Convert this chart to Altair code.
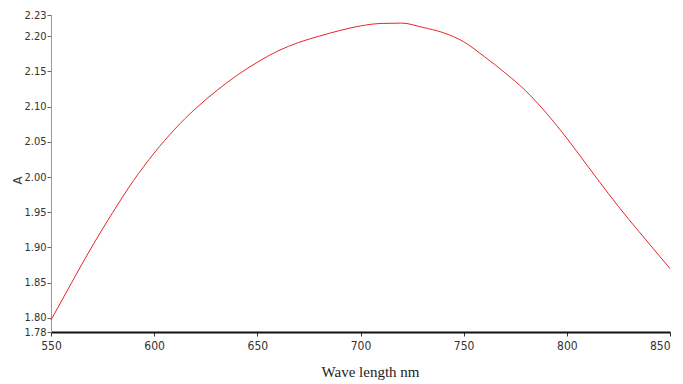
import altair as alt
import pandas as pd

wavelength = [550, 560, 570, 580, 590, 600, 610, 620, 630, 640, 650, 660, 670, 680, 690,
              700, 710, 720, 730, 740, 750, 760, 770, 780, 790, 800, 810, 820, 830, 840, 850]
absorbance = [1.797, 1.850, 1.902, 1.950, 1.995, 2.034, 2.068, 2.097, 2.122, 2.144, 2.163,
              2.179, 2.191, 2.200, 2.208, 2.2145, 2.218, 2.2185, 2.2125, 2.205, 2.192, 2.171,
              2.148, 2.1225, 2.091, 2.055, 2.016, 1.977, 1.940, 1.905, 1.870]

x_ticks = [550, 600, 650, 700, 750, 800, 850]
y_ticks = [1.78, 1.80, 1.85, 1.90, 1.95, 2.00, 2.05, 2.10, 2.15, 2.20, 2.23]

df = pd.DataFrame({"wl": wavelength, "A": absorbance})

narrow = "DejaVu Sans Condensed, Liberation Sans Narrow, sans-serif"

chart = alt.Chart(df).mark_line(color="#e8262c", strokeWidth=1, interpolate="monotone").encode(
    x=alt.X("wl:Q", scale=alt.Scale(domain=[550, 850], nice=False, zero=False),
            axis=alt.Axis(values=x_ticks, format="d", title="Wave length  nm",
                          grid=False, domainColor="#111111", domainWidth=2,
                          tickColor="#333333", tickSize=4, labelPadding=4,
                          labelFont=narrow, labelFontSize=12, labelColor="#333333",
                          labelFlush=False, labelOverlap=False,
                          labelAlign={"expr": "datum.value == 850 ? 'right' : 'center'"},
                          titleFont="Liberation Serif", titleFontSize=15,
                          titleFontWeight="normal", titleColor="#222222",
                          titleX=319, titleY=44, titleAlign="center",
                          titleBaseline="alphabetic")),
    y=alt.Y("A:Q", scale=alt.Scale(domain=[1.78, 2.23], nice=False, zero=False),
            axis=alt.Axis(values=y_ticks, format=".2f", title="A",
                          grid=False, domainColor="#999999", domainWidth=1,
                          tickColor="#666666", tickSize=4, labelPadding=1,
                          labelFont=narrow, labelFontSize=11, labelColor="#333333",
                          labelFlush=False, labelOverlap=False,
                          titleFont=narrow, titleFontSize=13,
                          titleFontWeight="normal", titleColor="#444444",
                          titleX=-34, titleY=165, titleAngle=-90,
                          titleAlign="center", titleBaseline="middle")),
).properties(
    width=619, height=317,
    autosize=alt.AutoSizeParams(type="none"),
    padding={"left": 43, "top": 7, "right": 5, "bottom": 50},
).configure_view(stroke=None)

chart.save("out.html", embed_options={"renderer": "svg", "actions": False})
